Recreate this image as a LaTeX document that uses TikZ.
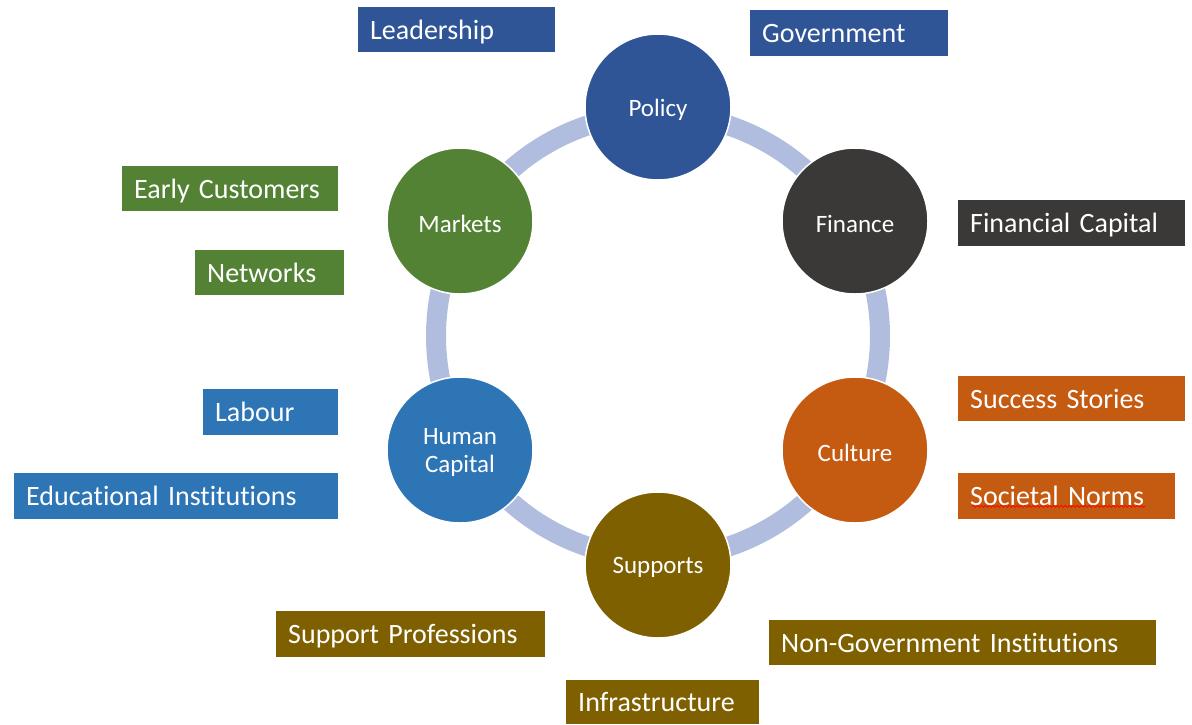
\documentclass[tikz,border=0pt]{standalone}
\usepackage{fontspec}
\setmainfont{Carlito}[Ligatures=NoCommon]
\usetikzlibrary{decorations.pathmorphing}
\definecolor{cblue}{HTML}{2F5597}
\definecolor{cgray}{HTML}{3B3838}
\definecolor{corange}{HTML}{C55A11}
\definecolor{colive}{HTML}{7F6000}
\definecolor{clblue}{HTML}{2E75B6}
\definecolor{cgreen}{HTML}{548235}
\definecolor{cring}{HTML}{B0BDDF}
\tikzset{
  hub/.style={circle, draw=white, line width=1.5pt, minimum size=146pt, inner sep=0pt},
  hubtext/.style={text=white, font=\fontsize{25}{28}\selectfont, align=center, yshift=-2.5pt},
  box/.style={rectangle, anchor=north west, inner xsep=12pt, inner ysep=0pt,
    text height=23pt, text depth=4pt,
    text=white, font=\fontsize{28}{32}\selectfont, align=left},
}
\begin{document}
\begin{tikzpicture}[x=1pt,y=-1pt]
\useasboundingbox (0,0) rectangle (1192,724);
% ring
\draw[cring, line width=20pt] (658,336) circle[radius=222];
% hubs
\node[hub, fill=cblue,   label={[hubtext]center:Policy}]   (policy)  at (658,107) {};
\node[hub, fill=cgray,   label={[hubtext]center:Finance}]  (finance) at (855,221) {};
\node[hub, fill=corange, label={[hubtext]center:Culture}]  (culture) at (855,450) {};
\node[hub, fill=colive,  label={[hubtext]center:Supports}] (supports) at (658,565) {};
\node[hub, fill=clblue,  label={[hubtext]center:Human\\Capital}] (human) at (460,450) {};
\node[hub, fill=cgreen,  label={[hubtext]center:Markets}]  (markets) at (460,221) {};
% boxes
\node[box, fill=cblue, text width=173pt, minimum height=45pt] (lead) at (358,7) {Leadership};
\node[box, fill=cblue, text width=174pt, minimum height=46pt] (gov) at (750,10) {Government};
\node[box, fill=cgreen, text width=192pt, minimum height=45pt] (early) at (122,166) {Early Customers};
\node[box, fill=cgreen, text width=125pt, minimum height=45pt] (net) at (195,250) {Networks};
\node[box, fill=cgray, text width=203pt, minimum height=46pt] (fincap) at (958,200) {Financial Capital};
\node[box, fill=clblue, text width=111pt, minimum height=46pt] (labour) at (203,389) {Labour};
\node[box, fill=clblue, text width=300pt, minimum height=46pt] (edu) at (14,473) {Educational Institutions};
\node[box, fill=corange, text width=203pt, minimum height=45pt] (success) at (958,376) {Success Stories};
\node[box, fill=corange, text width=193pt, minimum height=46pt] (sn) at (958,473) {Societal Norms};
\node[box, fill=colive, text width=245pt, minimum height=46pt] (supprof) at (276,611) {Support Professions};
\node[box, fill=colive, text width=363pt, minimum height=45pt] (ngo) at (769,620) {Non-Government Institutions};
\node[box, fill=colive, text width=169pt, minimum height=44pt] (infra) at (566,680) {Infrastructure};
% spell-check squiggle
\draw[red, line width=0.8pt, decorate, decoration={snake, amplitude=1pt, segment length=4pt}]
  ([xshift=14pt,yshift=13pt]sn.south west) -- ([xshift=187pt,yshift=13pt]sn.south west);
\end{tikzpicture}
\end{document}
